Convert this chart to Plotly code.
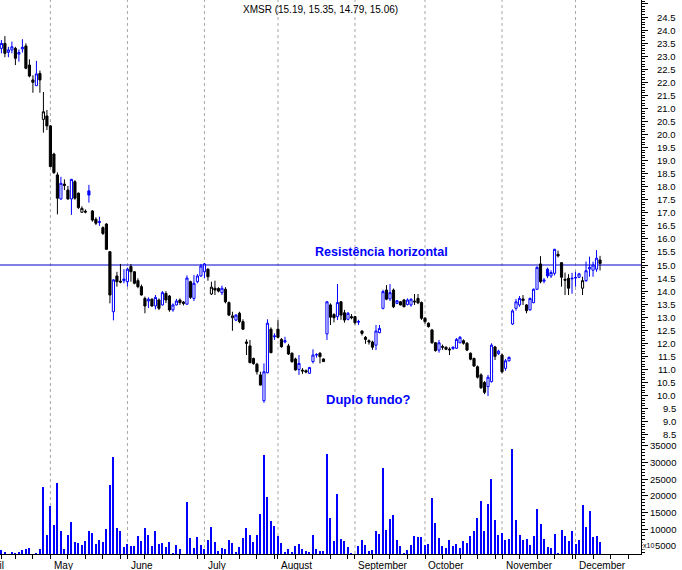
import numpy as np
import plotly.graph_objects as go

# ---------------- data (trading-day index 0..171) ----------------
opens = [23.30, 23.49, 23.15, 23.24, 23.30, 23.08, 23.28, 23.39, 22.66, 22.09,
         21.87, 22.34, 20.58, 20.71, 20.33, 19.25, 18.45, 17.53, 18.10, 17.87,
         17.53, 18.19, 17.75, 17.02, 17.06, 17.84, 17.07, 16.75, 16.63, 16.43,
         16.57, 15.51, 13.21, 14.58, 14.38, 14.40, 14.36, 14.94, 14.74, 14.40,
         14.17, 13.72, 13.62, 13.69, 13.43, 13.66, 13.47, 13.91, 13.81, 13.28,
         13.47, 13.66, 13.58, 13.50, 14.36, 13.72, 14.36, 14.58, 14.74, 14.84,
         13.89, 14.11, 14.10, 13.94, 14.07, 13.56, 12.98, 12.89, 13.15, 12.83,
         12.05, 11.90, 11.42, 11.20, 10.79, 9.80, 10.87, 12.54, 12.25, 12.54,
         12.15, 12.05, 11.90, 11.62, 11.40, 11.00, 10.97, 10.95, 10.85, 11.30,
         11.55, 11.62, 11.40, 12.36, 13.47, 13.10, 13.02, 13.59, 13.17, 12.92,
         13.02, 13.02, 12.81, 12.47, 12.23, 12.10, 12.05, 11.93, 12.41, 13.34,
         14.04, 13.70, 14.04, 13.53, 13.59, 13.66, 13.49, 13.47, 13.62, 13.72,
         13.56, 12.96, 12.77, 12.51, 12.02, 11.74, 11.88, 11.85, 11.78, 11.80,
         11.81, 12.02, 12.10, 12.00, 11.62, 11.42, 11.10, 10.79, 10.50, 10.34,
         10.53, 11.86, 11.60, 11.55, 11.04, 11.33, 12.74, 13.34, 13.47, 13.70,
         13.47, 13.28, 13.56, 14.07, 15.04, 14.38, 14.84, 14.58, 14.68, 15.41,
         15.09, 14.45, 14.49, 14.47, 14.50, 14.53, 14.11, 14.40, 14.85, 14.80,
         14.84, 15.19]
highs = [23.62, 23.77, 23.36, 23.56, 23.36, 23.26, 23.65, 23.49, 22.88, 22.27,
         22.82, 22.45, 21.63, 20.94, 20.35, 19.30, 18.55, 18.38, 18.28, 18.03,
         18.30, 18.25, 17.78, 17.25, 17.13, 18.07, 17.10, 16.83, 16.85, 16.48,
         16.60, 15.53, 14.45, 14.74, 15.04, 14.84, 14.90, 15.04, 14.76, 14.49,
         14.25, 13.79, 13.76, 13.72, 13.85, 13.72, 14.00, 14.00, 13.85, 13.53,
         13.70, 13.72, 13.62, 14.60, 14.40, 14.62, 14.65, 15.04, 15.08, 14.87,
         14.36, 14.40, 14.15, 14.21, 14.15, 13.60, 13.21, 13.12, 13.21, 12.92,
         12.15, 12.13, 11.45, 11.25, 10.91, 11.23, 12.92, 12.61, 12.38, 12.89,
         12.20, 12.25, 11.98, 11.65, 11.45, 11.55, 11.05, 11.00, 11.10, 11.77,
         11.62, 11.66, 11.42, 13.62, 13.53, 13.15, 14.27, 13.62, 13.28, 13.20,
         13.12, 13.05, 12.90, 12.50, 12.28, 12.15, 12.10, 12.70, 12.70, 14.05,
         14.23, 14.27, 14.10, 13.66, 13.62, 13.70, 13.72, 13.72, 13.89, 13.89,
         13.60, 13.00, 12.80, 12.55, 12.05, 12.13, 11.95, 11.88, 11.85, 11.88,
         12.20, 12.28, 12.15, 12.05, 11.65, 11.45, 11.15, 10.85, 10.55, 10.79,
         12.00, 11.90, 11.75, 11.60, 11.40, 11.50, 13.30, 13.70, 13.81, 13.85,
         13.50, 13.75, 14.10, 14.95, 15.34, 14.50, 14.90, 14.80, 15.62, 15.55,
         15.10, 14.71, 14.65, 14.70, 14.74, 14.70, 14.55, 15.13, 15.32, 15.13,
         15.57, 15.35]
lows = [23.11, 22.96, 22.96, 23.11, 22.66, 22.79, 23.14, 22.50, 22.19, 21.60,
        21.87, 21.60, 20.07, 20.17, 18.75, 18.49, 16.94, 17.50, 17.87, 17.50,
        16.92, 17.50, 17.15, 17.00, 16.98, 17.39, 16.66, 16.53, 16.50, 16.15,
        15.58, 13.53, 12.88, 14.17, 14.30, 14.30, 14.17, 14.36, 14.26, 14.11,
        13.83, 13.15, 13.35, 13.40, 13.30, 13.27, 13.45, 13.54, 13.21, 13.21,
        13.45, 13.47, 13.45, 13.47, 13.70, 13.62, 14.30, 14.55, 14.49, 14.40,
        13.85, 13.85, 13.95, 13.85, 13.53, 13.04, 12.48, 12.85, 12.77, 12.51,
        11.55, 11.23, 11.18, 10.80, 10.38, 9.72, 10.85, 11.62, 12.13, 12.19,
        11.83, 12.00, 11.55, 11.25, 10.95, 10.79, 10.83, 10.85, 10.83, 11.23,
        11.45, 11.23, 11.28, 12.13, 12.70, 12.80, 12.89, 12.90, 12.79, 12.88,
        12.92, 12.72, 12.70, 12.30, 11.98, 11.95, 11.75, 11.74, 12.38, 13.30,
        13.65, 13.62, 13.35, 13.50, 13.45, 13.38, 13.45, 13.40, 13.47, 13.50,
        12.90, 12.75, 12.60, 11.98, 11.68, 11.64, 11.75, 11.74, 11.55, 11.75,
        11.78, 12.00, 11.95, 11.70, 11.35, 11.10, 10.65, 10.25, 10.05, 9.98,
        10.50, 11.36, 11.55, 10.85, 10.95, 11.30, 12.70, 13.25, 13.40, 13.47,
        13.15, 13.25, 13.53, 14.05, 14.30, 14.30, 14.50, 14.50, 14.60, 15.29,
        14.17, 13.85, 13.85, 13.90, 14.17, 14.50, 13.85, 14.36, 14.55, 14.55,
        14.74, 14.79]
closes = [23.49, 23.11, 23.24, 23.36, 22.92, 23.14, 23.34, 22.54, 22.24, 22.00,
          22.32, 22.09, 20.87, 20.33, 18.77, 18.54, 17.56, 18.13, 18.05, 17.53,
          18.28, 17.56, 17.20, 17.17, 17.03, 17.68, 16.72, 16.60, 16.66, 16.21,
          15.60, 13.85, 14.43, 14.36, 14.35, 14.46, 14.84, 14.74, 14.30, 14.17,
          13.85, 13.43, 13.69, 13.43, 13.76, 13.34, 13.94, 13.66, 13.28, 13.47,
          13.62, 13.56, 13.53, 14.50, 13.76, 14.30, 14.58, 14.96, 15.04, 14.55,
          14.15, 14.04, 14.00, 14.11, 13.59, 13.08, 13.05, 13.08, 12.83, 12.54,
          12.00, 11.26, 11.22, 10.91, 10.40, 10.91, 12.77, 11.64, 12.28, 12.23,
          11.87, 12.10, 11.59, 11.30, 10.98, 11.23, 10.94, 10.90, 11.07, 11.55,
          11.57, 11.49, 11.30, 13.59, 13.00, 12.98, 13.56, 13.08, 12.89, 13.15,
          12.98, 12.79, 12.83, 12.38, 12.15, 12.05, 11.85, 12.47, 12.57, 13.98,
          13.69, 13.94, 13.40, 13.63, 13.47, 13.40, 13.66, 13.69, 13.59, 13.55,
          12.96, 12.83, 12.64, 12.02, 11.72, 12.02, 11.85, 11.77, 11.75, 11.85,
          12.15, 12.23, 12.00, 11.74, 11.39, 11.13, 10.70, 10.30, 10.12, 10.70,
          11.93, 11.50, 11.70, 10.91, 11.33, 11.46, 13.24, 13.59, 13.72, 13.64,
          13.25, 13.72, 14.07, 14.91, 14.36, 14.42, 14.58, 14.71, 15.60, 15.35,
          14.53, 14.42, 14.11, 14.49, 14.52, 14.66, 14.40, 14.78, 14.91, 15.00,
          15.26, 15.06]
volumes = [3800, 3200, 2000, 3200, 2800, 3200, 3800, 4200, 4500, 2000,
           2800, 4100, 22800, 8300, 17000, 11300, 24000, 9600, 4100, 8300,
           12200, 6100, 5800, 5300, 6500, 9600, 8900, 5600, 6800, 6200,
           10100, 23300, 31700, 10400, 9500, 4700, 5700, 5000, 5000, 8000,
           6500, 10400, 8300, 5000, 9500, 5500, 5900, 4600, 6200, 2800,
           5300, 4100, 2000, 18200, 7400, 4500, 7700, 5300, 4000, 6800,
           10700, 6200, 3600, 4400, 4100, 6800, 5900, 3200, 4700, 7400,
           10400, 8300, 6200, 8300, 14600, 32200, 19700, 12500, 11000, 8000,
           5900, 3200, 4100, 3200, 5000, 5600, 4100, 3500, 3200, 8300,
           4100, 3500, 3500, 32500, 13400, 6500, 20600, 7100, 6500, 4700,
           2900, 2500, 5000, 6800, 5300, 3500, 3800, 9500, 8600, 28300,
           9800, 13100, 14300, 6800, 5000, 2900, 3800, 5300, 7900, 7700,
           7700, 5300, 5600, 19400, 11900, 7400, 5000, 4400, 6800, 5000,
           5600, 4400, 6500, 5900, 7900, 9500, 13400, 18500, 9500, 17600,
           25100, 12800, 8300, 8900, 6800, 7100, 34000, 12800, 8300, 6800,
           7100, 5300, 7900, 16100, 11700, 7100, 4700, 4400, 8600, 2900,
           9800, 7900, 6500, 9500, 5600, 6800, 17300, 10700, 15500, 7700,
           7900, 6200]

ticker = "XMSR"
month_names = ["April", "May", "June", "July", "August", "September",
               "October", "November", "December"]
month_starts = [-6, 14, 36, 58, 79, 101, 121, 143, 164]
price_ticks = [round(8.5 + 0.5 * k, 1) for k in range(33)]
volume_ticks = [5000, 10000, 15000, 20000, 25000, 30000, 35000]
resistance = 15.0
note_resist = ("Resistência horizontal", 108.6, 15.50)
note_bottom = ("Duplo fundo?", 105.0, 9.83)

# ---------------- figure ----------------
BLUE = "#0000FF"
FONT = "Liberation Sans, Arial, sans-serif"
X_RANGE = [-0.4, 182.7]
P_RANGE = [8.295, 25.153]
V_RANGE = [2600, 36740]
SPLIT = 114 / 554

idx = np.arange(len(closes))
o = np.array(opens); h = np.array(highs); l = np.array(lows); c = np.array(closes)
prev = np.r_[c[0], c[:-1]]
up_day = c >= prev

fig = go.Figure()
for mask, col in ((up_day, BLUE), (~up_day, "#000000")):
    fig.add_trace(go.Candlestick(
        x=idx[mask], open=o[mask], high=h[mask], low=l[mask], close=c[mask],
        xaxis="x", yaxis="y", whiskerwidth=0,
        increasing=dict(line=dict(color=col, width=1), fillcolor="#FFFFFF"),
        decreasing=dict(line=dict(color=col, width=1), fillcolor=col),
        showlegend=False, hoverinfo="skip"))

fig.add_trace(go.Bar(x=idx, y=volumes, xaxis="x", yaxis="y2", width=0.3,
                     marker=dict(color=BLUE, line=dict(width=0)),
                     showlegend=False, hoverinfo="skip"))

week_ticks = []
for k, ms in enumerate(month_starts[1:]):
    nxt = month_starts[k + 2] if k + 2 < len(month_starts) else 183
    week_ticks += list(range(ms, nxt, 5))
week_ticks = [0, 4, 9] + week_ticks

shapes = []
for ms in month_starts[1:]:
    shapes.append(dict(type="line", xref="x", yref="paper", x0=ms, x1=ms, y0=0, y1=1,
                       line=dict(color="#A8A8A8", width=1, dash="3px,3px"), layer="below"))
shapes.append(dict(type="line", xref="paper", yref="y", x0=0, x1=1,
                   y0=resistance, y1=resistance,
                   line=dict(color="#0000CC", width=1), layer="below"))

ann = []
for p in price_ticks:
    ann.append(dict(xref="paper", x=1, xshift=37, xanchor="right", yref="y", y=p,
                    yanchor="middle", text=f"{p:.1f}", showarrow=False,
                    font=dict(family=FONT, size=9.5, color="#000")))
for v in volume_ticks:
    ann.append(dict(xref="paper", x=1, xshift=37, xanchor="right", yref="y2", y=v,
                    yanchor="middle", text=str(v), showarrow=False,
                    font=dict(family=FONT, size=9.5, color="#000")))
ann.append(dict(xref="paper", x=1, xshift=1, xanchor="left", yref="y2", y=volume_ticks[0],
                yanchor="middle", text="x10", showarrow=False, bgcolor="#FFFFFF",
                borderpad=0, font=dict(family=FONT, size=7, color="#000")))
span = X_RANGE[1] - X_RANGE[0]
for name, ms in zip(month_names, month_starts):
    ann.append(dict(xref="paper", x=(ms - X_RANGE[0]) / span, xanchor="left", xshift=1.5,
                    yref="paper", y=0, yanchor="middle", yshift=-11.5, text=name,
                    showarrow=False, font=dict(family=FONT, size=10, color="#000")))
ann.append(dict(xref="paper", x=320 / 641, xanchor="center", yref="paper", y=1,
                yanchor="middle", yshift=-9,
                text=f"{ticker} ({opens[-1]:.2f}, {highs[-1]:.2f}, {lows[-1]:.2f}, {closes[-1]:.2f})",
                showarrow=False, font=dict(family=FONT, size=10, color="#000")))
ann.append(dict(xref="x", x=note_resist[1], yref="y", y=note_resist[2], text=f"<b>{note_resist[0]}</b>",
                showarrow=False, xanchor="center", yanchor="middle",
                font=dict(family=FONT, size=12.5, color=BLUE)))
ann.append(dict(xref="x", x=note_bottom[1], yref="y", y=note_bottom[2], text=f"<b>{note_bottom[0]}</b>",
                showarrow=False, xanchor="center", yanchor="middle",
                font=dict(family=FONT, size=13, color=BLUE)))

axis_common = dict(side="right", anchor="x", showline=True, linecolor="#000", linewidth=1,
                   ticks="outside", ticklen=6, tickcolor="#000", tickwidth=1,
                   showticklabels=False, showgrid=False, zeroline=False, fixedrange=True,
                   automargin=False)
fig.update_layout(
    width=682, height=570,
    margin=dict(l=0, r=41, t=0, b=16, pad=0, autoexpand=False),
    paper_bgcolor="#FFFFFF", plot_bgcolor="#FFFFFF", showlegend=False,
    boxgap=0.12, bargap=0, hovermode=False,
    xaxis=dict(range=X_RANGE, anchor="y2", showline=True, linecolor="#000", linewidth=1,
               ticks="outside", ticklen=4, tickcolor="#000", tickmode="array",
               tickvals=week_ticks, showticklabels=False, showgrid=False, zeroline=False,
               rangeslider=dict(visible=False), fixedrange=True, automargin=False),
    yaxis=dict(domain=[SPLIT, 1], range=P_RANGE, dtick=0.5, tick0=0,
               minor=dict(ticks="outside", ticklen=3, dtick=0.1, tick0=0, tickcolor="#000", showgrid=False),
               **axis_common),
    yaxis2=dict(domain=[0, SPLIT], range=V_RANGE, dtick=5000, tick0=0,
                minor=dict(ticks="outside", ticklen=3, dtick=1000, tick0=0, tickcolor="#000", showgrid=False),
                **axis_common),
    shapes=shapes, annotations=ann,
)

fig.write_html("out.html", config={"displayModeBar": False},
               post_script="document.body.style.margin='0';document.body.style.overflow='hidden';")
